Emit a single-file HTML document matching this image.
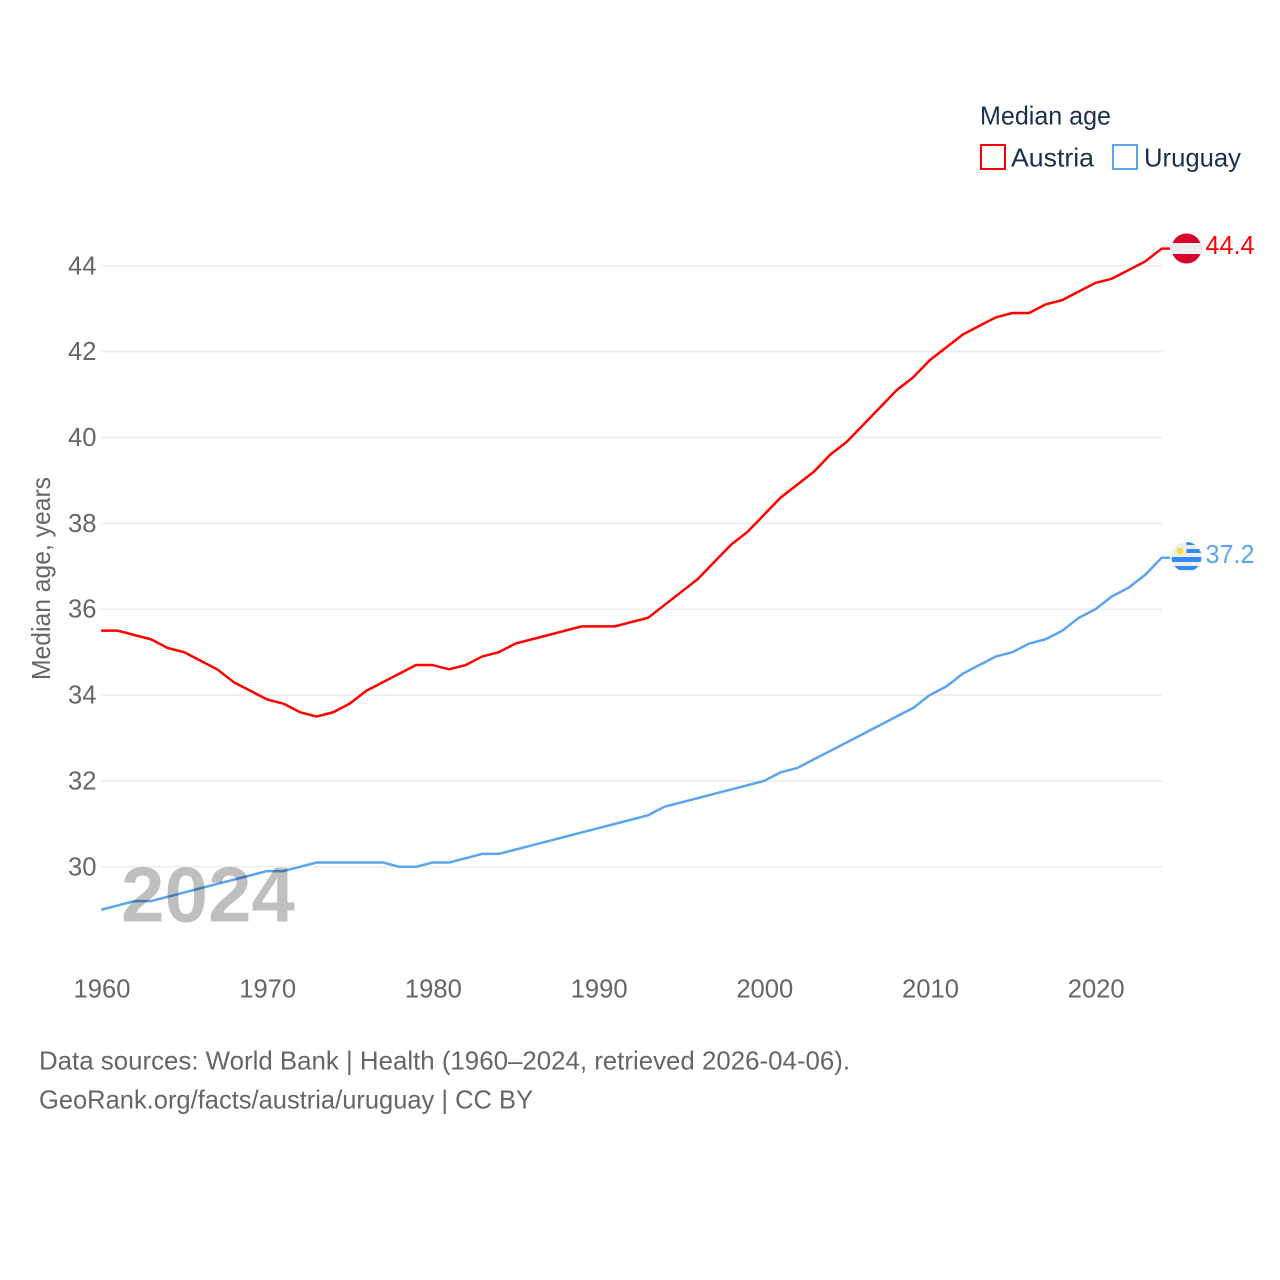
<!DOCTYPE html>
<html lang="en">
<head>
<meta charset="utf-8">
<title>Median age: Austria and Uruguay</title>
<style>
html,body{margin:0;padding:0;background:#fff;width:1280px;height:1280px;overflow:hidden}
svg{display:block}
text{font-family:"Liberation Sans",sans-serif}
.tick{font-size:25.6px;fill:#666}
.legend{font-size:26px;fill:#1a3050}
.src{font-size:26px;fill:#666}
</style>
</head>
<body>
<svg id="chart" xmlns="http://www.w3.org/2000/svg" width="1280" height="1280" viewBox="0 0 1280 1280">
  <rect width="1280" height="1280" fill="#fff"/>
  <g id="grid"></g>
  <g id="yticks"></g>
  <g id="xticks"></g>
  <text class="tick" transform="translate(50,680) rotate(-90)" textLength="203" lengthAdjust="spacingAndGlyphs">Median age, years</text>
  <g id="series"></g>

  <g>
    <clipPath id="clip-at"><circle cx="1186.5" cy="248.5" r="15"/></clipPath>
    <g clip-path="url(#clip-at)">
      <rect x="1171" y="233" width="31" height="31" fill="#d8002c"/>
      <rect x="1171" y="243" width="31" height="11" fill="#eeeeee"/>
    </g>
  </g>
  <g>
    <clipPath id="clip-uy"><circle cx="1186.5" cy="557" r="15"/></clipPath>
    <g clip-path="url(#clip-uy)">
      <rect x="1171" y="541" width="31" height="32" fill="#eeeeee"/>
      <rect x="1186.5" y="541" width="15" height="4" fill="#338af3"/>
      <rect x="1186.5" y="549" width="15" height="4" fill="#338af3"/>
      <rect x="1171" y="557" width="31" height="5" fill="#338af3"/>
      <rect x="1171" y="566" width="31" height="4" fill="#338af3"/>
      <circle cx="1180" cy="551" r="3.5" fill="#ffda44"/>
    </g>
  </g>

  <text x="1205.5" y="254" font-size="25.6" fill="#ff0000" textLength="49" lengthAdjust="spacingAndGlyphs">44.4</text>
  <text x="1205.5" y="563" font-size="25.6" fill="#5ba4ee" textLength="49" lengthAdjust="spacingAndGlyphs">37.2</text>

  <g>
    <text class="legend" x="980" y="124.5" textLength="131" lengthAdjust="spacingAndGlyphs">Median age</text>
    <rect x="981" y="145" width="24" height="24" fill="#fff" stroke="#ff0000" stroke-width="2"/>
    <text class="legend" x="1011" y="166.5" textLength="83" lengthAdjust="spacingAndGlyphs">Austria</text>
    <rect x="1113" y="145" width="24" height="24" fill="#fff" stroke="#5ba4ee" stroke-width="2"/>
    <text class="legend" x="1144" y="166.5" textLength="97" lengthAdjust="spacingAndGlyphs">Uruguay</text>
  </g>

  <text id="year-label" x="208" y="921.5" text-anchor="middle" font-size="78" font-weight="700" fill="#000" fill-opacity="0.25" textLength="174" lengthAdjust="spacingAndGlyphs">2024</text>

  <text class="src" x="39" y="1069.5" textLength="811" lengthAdjust="spacingAndGlyphs">Data sources: World Bank | Health (1960–2024, retrieved 2026-04-06).</text>
  <text class="src" x="39" y="1108.5" textLength="494" lengthAdjust="spacingAndGlyphs">GeoRank.org/facts/austria/uruguay | CC BY</text>
</svg>
<script>
const startYear = 1960;
const yTickValues = [30, 32, 34, 36, 38, 40, 42, 44];
const xTickValues = [1960, 1970, 1980, 1990, 2000, 2010, 2020];
const austriaValues = [35.5,35.5,35.4,35.3,35.1,35.0,34.8,34.6,34.3,34.1,33.9,33.8,33.6,33.5,33.6,33.8,34.1,34.3,34.5,34.7,34.7,34.6,34.7,34.9,35.0,35.2,35.3,35.4,35.5,35.6,35.6,35.6,35.7,35.8,36.1,36.4,36.7,37.1,37.5,37.8,38.2,38.6,38.9,39.2,39.6,39.9,40.3,40.7,41.1,41.4,41.8,42.1,42.4,42.6,42.8,42.9,42.9,43.1,43.2,43.4,43.6,43.7,43.9,44.1,44.4];
const uruguayValues = [29.0,29.1,29.2,29.2,29.3,29.4,29.5,29.6,29.7,29.8,29.9,29.9,30.0,30.1,30.1,30.1,30.1,30.1,30.0,30.0,30.1,30.1,30.2,30.3,30.3,30.4,30.5,30.6,30.7,30.8,30.9,31.0,31.1,31.2,31.4,31.5,31.6,31.7,31.8,31.9,32.0,32.2,32.3,32.5,32.7,32.9,33.1,33.3,33.5,33.7,34.0,34.2,34.5,34.7,34.9,35.0,35.2,35.3,35.5,35.8,36.0,36.3,36.5,36.8,37.2];

const NS = 'http://www.w3.org/2000/svg';
const xScale = function (year) { return 101.2 + (year - 1960) * 16.57; };
const yScale = function (v) { return 866.8 - (v - 30) * 42.93; };

const grid = document.getElementById('grid');
const yticks = document.getElementById('yticks');
const xticks = document.getElementById('xticks');
const series = document.getElementById('series');

yTickValues.forEach(function (v) {
  const line = document.createElementNS(NS, 'line');
  
  
  line.setAttribute('x1', 101.5);
  line.setAttribute('x2', 1162);
  line.setAttribute('y1', yScale(v));
  line.setAttribute('y2', yScale(v));
  line.setAttribute('stroke', '#ececec');
  line.setAttribute('stroke-width', '1.5');
  grid.appendChild(line);

  const t = document.createElementNS(NS, 'text');
  
  
  t.setAttribute('class', 'tick');
  t.setAttribute('x', 96.5);
  t.setAttribute('y', yScale(v) + 8.5);
  t.setAttribute('text-anchor', 'end');
  t.textContent = v;
  yticks.appendChild(t);
});

xTickValues.forEach(function (y) {
  const t = document.createElementNS(NS, 'text');
  
  
  t.setAttribute('class', 'tick');
  t.setAttribute('x', xScale(y) + 0.8);
  t.setAttribute('y', 997.5);
  t.setAttribute('text-anchor', 'middle');
  t.textContent = y;
  xticks.appendChild(t);
});

function drawSeries(values, color, name) {
  const pts = values.map(function (v, i) {
    return xScale(startYear + i).toFixed(2) + ',' + yScale(v).toFixed(2);
  });
  const lastY = yScale(values[values.length - 1]).toFixed(2);
  pts.push('1170,' + lastY);
  const p = document.createElementNS(NS, 'polyline');
  
  
  p.setAttribute('points', pts.join(' '));
  p.setAttribute('fill', 'none');
  p.setAttribute('stroke', color);
  p.setAttribute('stroke-width', '2.5');
  p.setAttribute('stroke-linejoin', 'round');
  series.appendChild(p);
}
drawSeries(uruguayValues, '#5ba4ee', 'uruguay-line');
drawSeries(austriaValues, '#ff0000', 'austria-line');
</script>
</body>
</html>
